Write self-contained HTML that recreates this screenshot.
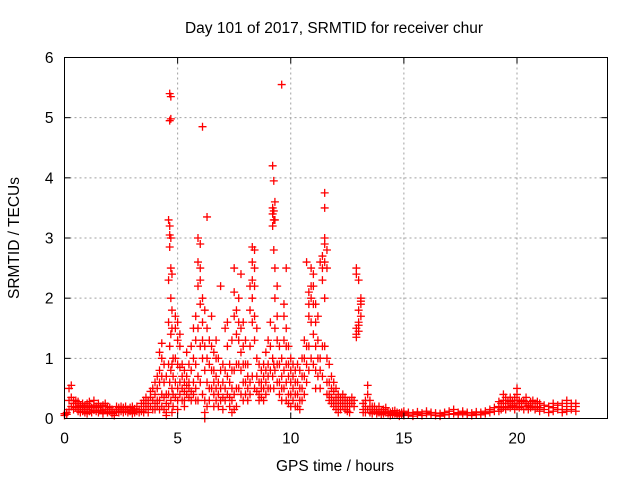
<!DOCTYPE html>
<html><head><meta charset="utf-8"><style>
html,body{margin:0;padding:0;background:#fff;}
svg{display:block;font-family:"Liberation Sans",Arial,sans-serif;}
</style></head><body>
<svg id="chart" width="640" height="480" viewBox="0 0 640 480">
<rect x="0" y="0" width="640" height="480" fill="#fff"/>
<g id="grid"></g>
<g id="points"></g>
<rect x="64.5" y="57.5" width="543" height="361" fill="none" stroke="#000" stroke-width="1"/>
<g id="ticks"></g>
<text x="334" y="33" font-size="15.5" text-anchor="middle" fill="#000">Day 101 of 2017, SRMTID for receiver chur</text>
<text x="335" y="471" font-size="15.5" text-anchor="middle" fill="#000">GPS time / hours</text>
<text transform="translate(19,238) rotate(-90)" font-size="15.5" text-anchor="middle" fill="#000">SRMTID / TECUs</text>
</svg>
<script>
const xTicks = [0, 5, 10, 15, 20];
const yTicks = [0, 1, 2, 3, 4, 5, 6];
const groupTimes = [0.0,0.1,0.2,0.3,0.4,0.5,0.6,0.7,0.8,0.9,1.0,1.1,1.2,1.3,1.4,1.5,1.6,1.7,1.8,1.9,2.0,2.1,2.2,2.3,2.4,2.5,2.6,2.7,2.8,2.9,3.0,3.1,3.2,3.3,3.4,3.5,3.6,3.7,3.8,3.9,4.0,4.1,4.2,4.3,4.4,4.5,4.6,4.65,4.7,4.75,4.8,4.9,5.0,5.1,5.2,5.3,5.4,5.5,5.6,5.7,5.8,5.9,6.0,6.1,6.2,6.3,6.4,6.5,6.6,6.7,6.8,6.9,7.0,7.1,7.2,7.3,7.4,7.5,7.6,7.7,7.8,7.9,8.0,8.1,8.2,8.3,8.4,8.5,8.6,8.7,8.8,8.9,9.0,9.1,9.2,9.25,9.3,9.4,9.5,9.6,9.7,9.8,9.9,10.0,10.1,10.2,10.3,10.4,10.5,10.6,10.7,10.8,10.9,11.0,11.1,11.2,11.3,11.4,11.5,11.6,11.7,11.8,11.9,12.0,12.1,12.2,12.3,12.4,12.5,12.6,12.7,12.8,12.9,13.0,13.1,13.2,13.3,13.4,13.5,13.6,13.7,13.8,13.9,14.0,14.1,14.2,14.3,14.4,14.5,14.6,14.7,14.8,14.9,15.0,15.2,15.4,15.6,15.8,16.0,16.2,16.4,16.6,16.8,17.0,17.2,17.4,17.6,17.8,18.0,18.2,18.4,18.6,18.8,19.0,19.2,19.3,19.4,19.5,19.6,19.7,19.8,19.9,20.0,20.1,20.2,20.3,20.4,20.5,20.6,20.7,20.8,20.9,21.0,21.2,21.4,21.6,21.8,22.0,22.2,22.4,22.6];
const groupValues = [
[0.05,0.08],[0.07,0.1],[0.3,0.5,0.15],[0.55,0.35,0.2],[0.3,0.25,0.15],[0.25,0.18,0.3],[0.2,0.12,0.28],[0.15,0.22,0.1],[0.2,0.12,0.25],[0.1,0.18,0.22],
[0.15,0.25,0.08],[0.2,0.12,0.28],[0.1,0.18],[0.22,0.14,0.3],[0.12,0.2],[0.18,0.1,0.25],[0.2,0.14],[0.12,0.22,0.08],[0.15,0.25],[0.2,0.1],
[0.12,0.18],[0.08,0.15],[0.05,0.1],[0.12,0.2],[0.15,0.18,0.1],[0.2,0.12],[0.15,0.1,0.18],[0.2,0.12],[0.1,0.15],[0.18,0.12],
[0.14,0.2,0.08],[0.1,0.16],[0.2,0.12],[0.15,0.1],[0.12,0.25],[0.2,0.3,0.1],[0.25,0.15,0.35],[0.3,0.2,0.1],[0.35,0.45,0.2],[0.3,0.5,0.15],
[0.4,0.25,0.6,0.15],[0.5,0.7,0.3,0.2],[0.8,1.1,0.6,0.3,0.15],[1.25,1.0,0.7,0.4,0.2],[0.9,0.6,0.35,0.15],[0.7,0.4,0.25,0.1,0.05],
[0.9,1.6,2.3,3.3,0.4,0.2],[4.95,5.4,3.2,3.05,2.85,1.2,0.6],[5.35,4.98,3.0,2.5,2.0,1.4,0.8,0.3],[2.4,1.8,1.5,0.9,0.5,0.1],[1.0,0.7,0.4,0.2],
[1.7,1.5,1.0,0.6,0.35],[1.6,1.3,0.9,0.5,0.3,0.15],[1.4,1.2,0.85,0.6,0.4],[0.9,0.7,0.5,0.3],[0.8,0.6,0.45,0.3,0.2],[1.1,0.7,0.55,0.4],[0.9,0.6,0.5,0.35],[0.8,1.2,0.45,0.3],[0.6,1.5,1.0,0.4],[1.7,1.3,0.9,0.5,0.3],
[3.0,2.6,2.2,1.5,0.7,0.3],[2.9,2.5,2.3,1.9,1.2,0.6],[4.85,2.0,1.6,1.3,1.0,0.4],[1.8,1.2,0.8,0.3,0.1,0.0],[3.35,1.5,1.0,0.6,0.2],[1.3,0.9,0.5,0.3],[1.7,1.2,0.8,0.5],[1.1,0.8,0.6,0.4,0.2],[1.3,1.0,0.7,0.5,0.3],[1.0,0.6,0.4,0.2],[2.2,0.8,0.5,0.3],
[0.9,0.6,0.35,0.15],[1.5,0.8,0.5,0.3],[1.6,1.2,0.7,0.4],[0.9,0.6,0.35,0.2],[1.3,0.8,0.5,0.3,0.1],[2.5,2.1,1.7,0.8,0.4,0.15],[1.8,1.4,0.9,0.5,0.2],[2.0,1.6,1.3,0.9,0.5],[2.4,1.5,1.1,0.8,0.4],[1.6,1.2,0.9,0.6,0.3],
[1.3,0.9,0.6,0.4],[0.9,0.7,0.5,0.3],[2.2,1.8,1.2,0.6,0.4],[2.85,2.6,2.3,2.0,1.6,0.7],[2.8,2.5,2.2,1.7,1.3,0.5],[1.5,1.0,0.7,0.45],[0.9,0.6,0.4,0.3],[0.8,0.6,0.5,0.35],[0.9,0.7,0.5,0.3],[1.1,0.8,0.6,0.4],
[1.3,0.9,0.7,0.5],[1.6,1.2,0.8,0.5],[4.2,3.5,3.4,3.2,1.0,0.7],[3.95,3.45,3.3,2.8,0.9,0.5],[3.6,3.3,2.5,2.0,1.5,0.8],[2.2,1.7,1.3,0.9,0.6],[1.2,0.9,0.6,0.4],[5.55,1.0,0.7,0.5,0.3],[1.9,1.7,1.3,0.8,0.5],[2.5,1.5,1.2,0.9,0.6,0.3],[1.2,0.9,0.7,0.4,0.25],
[1.0,0.8,0.6,0.4,0.2],[0.9,0.7,0.5,0.3],[0.8,0.6,0.4,0.2],[0.9,0.6,0.4,0.2],[0.8,0.5,0.3,0.15],[1.0,0.7,0.5,0.3],[1.3,1.0,0.7,0.4],[2.6,1.2,0.9,0.6],[2.1,1.9,1.7,1.2,0.8],[2.5,2.2,2.0,1.6,1.0],
[2.4,2.2,1.9,1.4,0.9],[1.9,1.6,1.2,0.8,0.5],[1.7,1.3,1.0,0.7],[2.6,1.0,0.8,0.5],[2.7,2.5,2.3,1.2,0.7],[3.75,3.5,3.0,2.9,2.6,2.0,1.2],[2.8,2.5,1.0,0.6,0.4],[0.9,0.6,0.4,0.3],[0.7,0.5,0.35,0.25],[0.6,0.45,0.3,0.2],
[0.5,0.35,0.25,0.15],[0.4,0.3,0.2,0.1],[0.35,0.25,0.15],[0.4,0.3,0.2],[0.35,0.25,0.15],[0.3,0.2,0.12],[0.3,0.2,0.1],[0.35,0.25],[0.3,0.2],[1.35,1.5,2.5,2.4,1.4],
[1.6,2.3,1.8,1.45,1.55],[1.9,2.0,1.7,1.95],[0.25,0.15,0.1],[0.2,0.1,0.3],[0.55,0.4,0.15],[0.2,0.1,0.3],[0.15,0.2,0.08],[0.12,0.2],[0.15,0.08],[0.1,0.2],
[0.12,0.06],[0.15,0.08],[0.1,0.18],[0.08,0.12],[0.1,0.05],[0.12,0.07],[0.08,0.13],[0.06,0.1],[0.09,0.04],[0.1,0.06],
[0.08,0.05,0.12],[0.06,0.1],[0.09,0.04],[0.07,0.11],[0.05,0.09],[0.08,0.12],[0.06,0.1],[0.05,0.09],[0.08,0.04],[0.1,0.06],
[0.12,0.07],[0.15,0.08],[0.1,0.06],[0.08,0.12],[0.06,0.1],[0.09,0.05],[0.07,0.11],[0.06,0.1],[0.08,0.12],[0.1,0.15],
[0.12,0.18],[0.2,0.12,0.28],[0.25,0.15],[0.3,0.18,0.4],[0.25,0.35,0.15],[0.3,0.2],[0.28,0.35,0.18],[0.3,0.22],[0.25,0.35,0.15],[0.5,0.3,0.2,0.4],
[0.3,0.25,0.18],[0.28,0.2],[0.3,0.15],[0.25,0.2,0.35],[0.22,0.15],[0.28,0.18],[0.2,0.3],[0.25,0.15],[0.2,0.28],[0.18,0.25,0.12],
[0.15,0.22],[0.2,0.1],[0.18,0.12,0.25],[0.22,0.15],[0.25,0.15,0.1],[0.2,0.3,0.12],[0.15,0.25],[0.25,0.12,0.2]
];
const xMin = 0, xMax = 24, yMin = 0, yMax = 6;
const L = 64.5, R = 607.5, T = 57.5, B = 418.5;
function xs(v){ return L + (v - xMin) / (xMax - xMin) * (R - L); }
function ys(v){ return B - (v - yMin) / (yMax - yMin) * (B - T); }
const NS = 'http://www.w3.org/2000/svg';
const grid = document.getElementById('grid');
const ticks = document.getElementById('ticks');
xTicks.forEach(function(t){
  const x = xs(t);
  if (t > xMin) {
    const g = document.createElementNS(NS,'line');
    g.setAttribute('x1',x); g.setAttribute('x2',x); g.setAttribute('y1',T); g.setAttribute('y2',B);
    g.setAttribute('stroke','#a0a0a0'); g.setAttribute('stroke-dasharray','2,3');
    
    
    grid.appendChild(g);
  }
  [[B,B-6],[T,T+6]].forEach(function(p){
    const m = document.createElementNS(NS,'line');
    m.setAttribute('x1',x); m.setAttribute('x2',x); m.setAttribute('y1',p[0]); m.setAttribute('y2',p[1]);
    m.setAttribute('stroke','#000');
    
    
    ticks.appendChild(m);
  });
  const lb = document.createElementNS(NS,'text');
  lb.setAttribute('x',x); lb.setAttribute('y',B+25); lb.setAttribute('text-anchor','middle'); lb.setAttribute('font-size','15.5');
  lb.textContent = t;
  
  
  ticks.appendChild(lb);
});
yTicks.forEach(function(t){
  const y = ys(t);
  if (t > yMin && t < yMax) {
    const g = document.createElementNS(NS,'line');
    g.setAttribute('x1',L); g.setAttribute('x2',R); g.setAttribute('y1',y); g.setAttribute('y2',y);
    g.setAttribute('stroke','#a0a0a0'); g.setAttribute('stroke-dasharray','2,3');
    
    
    grid.appendChild(g);
  }
  [[L,L+6],[R,R-6]].forEach(function(p){
    const m = document.createElementNS(NS,'line');
    m.setAttribute('x1',p[0]); m.setAttribute('x2',p[1]); m.setAttribute('y1',y); m.setAttribute('y2',y);
    m.setAttribute('stroke','#000');
    
    
    ticks.appendChild(m);
  });
  const lb = document.createElementNS(NS,'text');
  lb.setAttribute('x',L-11); lb.setAttribute('y',y+5.5); lb.setAttribute('text-anchor','end'); lb.setAttribute('font-size','15.5');
  lb.textContent = t;
  
  
  ticks.appendChild(lb);
});
const pts = document.getElementById('points');
groupTimes.forEach(function(t, i){
  const x = xs(t);
  (groupValues[i] || []).forEach(function(v){
    const y = ys(v);
    const p = document.createElementNS(NS,'path');
    p.setAttribute('d','M'+(x-4)+' '+y+'H'+(x+4)+'M'+x+' '+(y-4)+'V'+(y+4));
    p.setAttribute('stroke','#ff0000'); p.setAttribute('stroke-width','1.3'); p.setAttribute('fill','none');
    
    
    pts.appendChild(p);
  });
});
</script>
</body></html>
